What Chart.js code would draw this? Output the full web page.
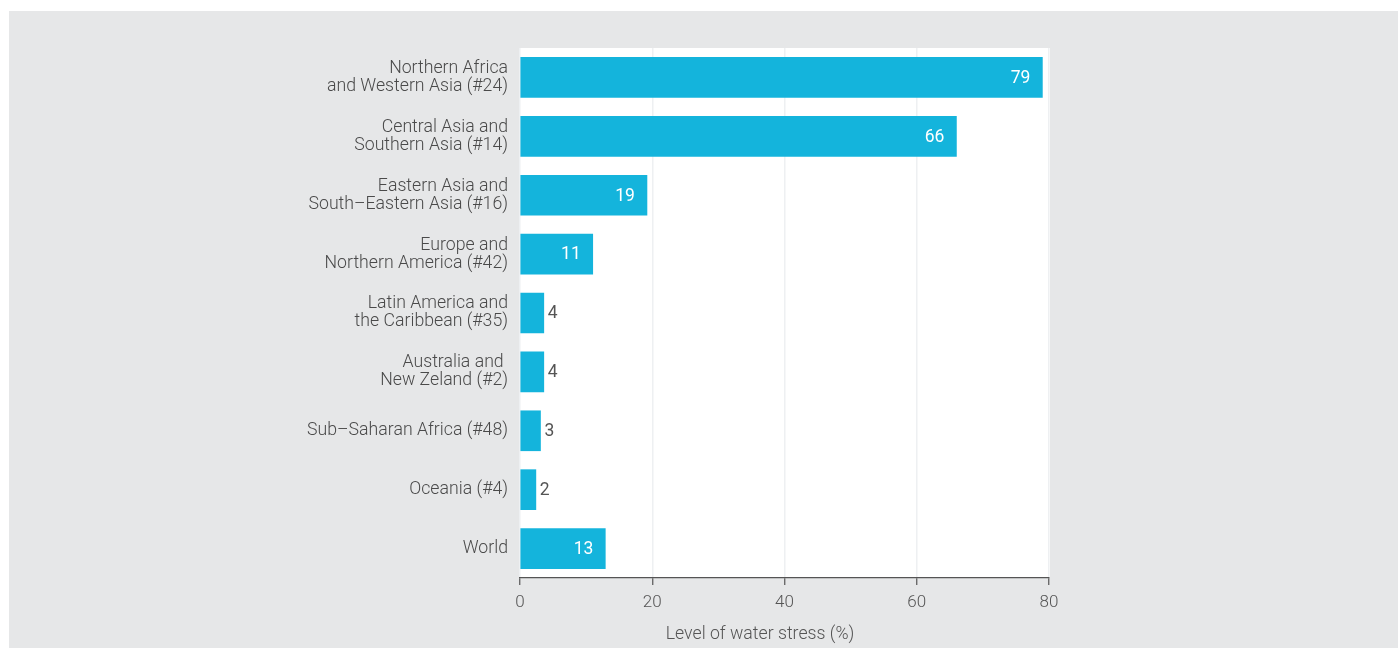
<!DOCTYPE html>
<html>
<head>
<meta charset="utf-8">
<script src="https://cdn.jsdelivr.net/npm/chart.js@4"></script>
<style>
  html, body { margin: 0; padding: 0; background: #ffffff; }
  #bg { position: absolute; left: 9px; top: 11px; width: 1389px; height: 637px; background: #e6e7e8; }
  #wrap { position: absolute; left: 0; top: 0; width: 1398px; height: 648px; }
</style>
</head>
<body>
<div id="bg"></div>
<div id="wrap"><canvas id="c" width="1398" height="648"></canvas></div>
<script>
const categories = [
  ['Northern Africa', 'and Western Asia (#24)'],
  ['Central Asia and', 'Southern Asia (#14)'],
  ['Eastern Asia and', 'South\u2013Eastern Asia (#16)'],
  ['Europe and', 'Northern America (#42)'],
  ['Latin America and', 'the Caribbean (#35)'],
  ['Australia and ', 'New Zeland (#2)'],
  'Sub\u2013Saharan Africa (#48)',
  'Oceania (#4)',
  'World'
];
const waterStress = [79, 66, 19.2, 11, 3.6, 3.6, 3.1, 2.4, 12.9];
const xTicks = [0, 20, 40, 60, 80];
const axisTitle = 'Level of water stress (%)';

const FONT = 'Roboto, "Noto Sans", sans-serif';

const plotBg = {
  id: 'plotBg',
  beforeDraw(chart) {
    const { ctx, chartArea: a } = chart;
    ctx.save();
    ctx.fillStyle = '#ffffff';
    ctx.fillRect(a.left, a.top, a.right - a.left + 1, a.bottom - a.top);
    ctx.restore();
  }
};

const valueLabels = {
  id: 'valueLabels',
  afterDatasetsDraw(chart) {
    const { ctx } = chart;
    const meta = chart.getDatasetMeta(0);
    ctx.save();
    ctx.font = '400 17.5px ' + FONT;
    ctx.textBaseline = 'middle';
    meta.data.forEach((bar, i) => {
      const v = waterStress[i];
      const txt = String(Math.round(v));
      if (v >= 10) {
        ctx.fillStyle = '#ffffff';
        ctx.textAlign = 'right';
        ctx.fillText(txt, bar.x - 12, bar.y + 1);
      } else {
        ctx.fillStyle = '#555555';
        ctx.textAlign = 'left';
        ctx.fillText(txt, bar.x + 4, bar.y + 1);
      }
    });
    ctx.restore();
  }
};

const xTitle = {
  id: 'xTitle',
  afterDraw(chart) {
    const { ctx } = chart;
    ctx.save();
    ctx.font = '300 17.7px ' + FONT;
    ctx.fillStyle = '#555555';
    ctx.textAlign = 'center';
    ctx.textBaseline = 'middle';
    ctx.fillText(axisTitle, 760, 635);
    ctx.restore();
  }
};

new Chart(document.getElementById('c'), {
  type: 'bar',
  data: {
    labels: categories,
    datasets: [{
      data: waterStress,
      backgroundColor: '#14b4dc',
      borderWidth: 0,
      barThickness: 40
    }]
  },
  options: {
    indexAxis: 'y',
    responsive: false,
    animation: false,
    events: [],
    layout: { padding: { left: 0, right: 349, top: 48, bottom: 0 } },
    plugins: { legend: { display: false }, tooltip: { enabled: false } },
    scales: {
      x: {
        type: 'linear',
        min: 0,
        max: 80,
        afterBuildTicks(scale) { scale.ticks = xTicks.map(v => ({ value: v })); },
        afterFit(scale) { scale.height = 70; },
        grid: {
          color: '#eef0f2',
          lineWidth: 1.5,
          drawTicks: true,
          tickLength: 7,
          tickColor: '#555555',
          tickWidth: 1.2
        },
        border: { display: true, color: '#555555', width: 1.2 },
        ticks: {
          padding: 8,
          color: '#555555',
          font: { family: FONT, size: 17, weight: '300' }
        }
      },
      y: {
        afterFit(scale) { scale.width = 520; },
        grid: { display: false, drawTicks: false },
        border: { display: false },
        ticks: {
          padding: 12,
          color: '#4a4a4a',
          font: { family: FONT, size: 17.7, weight: '300', lineHeight: '18px' }
        }
      }
    }
  },
  plugins: [plotBg, valueLabels, xTitle]
});
</script>
</body>
</html>
